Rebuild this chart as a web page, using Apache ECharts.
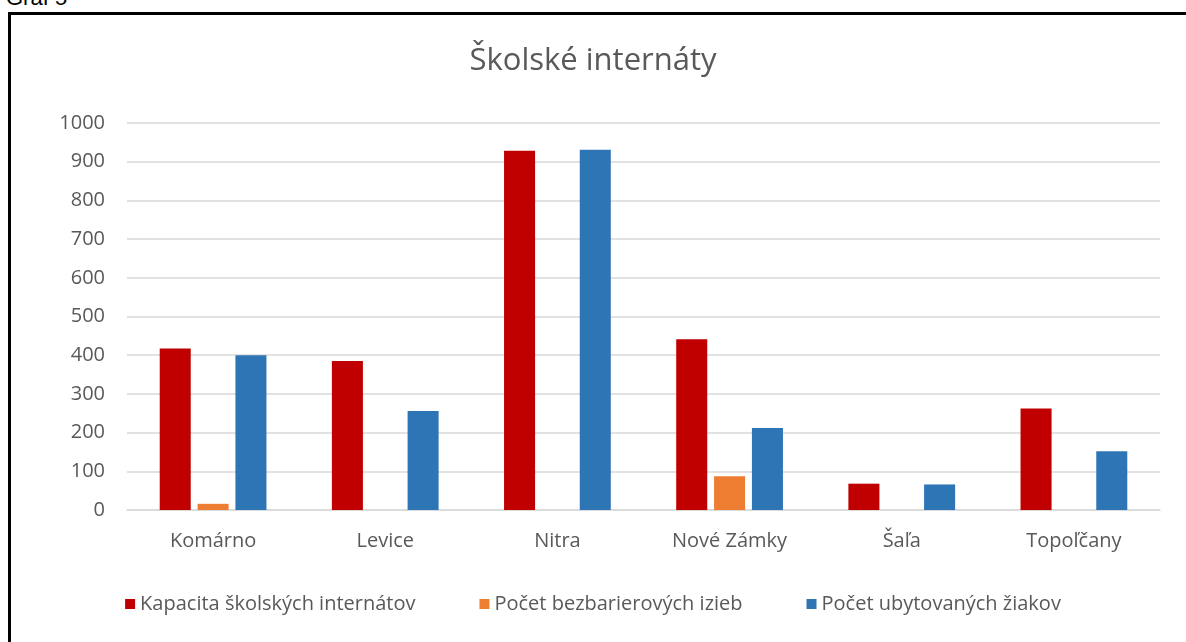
<!DOCTYPE html>
<html>
<head>
<meta charset="utf-8">
<script src="https://cdn.jsdelivr.net/npm/echarts@6/dist/echarts.min.js"></script>
<style>
html,body{margin:0;padding:0;background:#fff;width:1186px;height:642px;overflow:hidden;}
#cap{position:absolute;left:6px;top:-15px;font-family:"Liberation Sans",Arial,sans-serif;font-size:22px;color:#000;}
#frame{position:absolute;left:8px;top:12px;width:1200px;height:700px;border-left:3px solid #000;border-top:3px solid #000;}
#chart{position:absolute;left:0;top:0;width:1186px;height:642px;}
</style>
</head>
<body>
<div id="cap">Graf 5</div>
<div id="frame"></div>
<div id="chart"></div>
<script>
const categories = ["Komárno", "Levice", "Nitra", "Nové Zámky", "Šaľa", "Topoľčany"];
const kapacita = [417, 385, 928, 441, 68, 262];
const bezbarierove = [16, 0, 0, 87, 0, 0];
const ubytovani = [400, 256, 931, 212, 66, 152];
const seriesNames = ["Kapacita školských internátov", "Počet bezbarierových izieb", "Počet ubytovaných žiakov"];
const colors = ["#C00000", "#ED7D31", "#2E75B6"];

const chart = echarts.init(document.getElementById('chart'));
const font = '"Open Sans", sans-serif';
chart.setOption({
  animation: false,
  title: {
    text: "Školské internáty",
    left: 'center',
    top: 41,
    textStyle: {fontFamily: font, fontSize: 31, fontWeight: 'normal', color: '#595959'}
  },
  legend: {
    bottom: 23,
    left: 'center',
    itemWidth: 10,
    itemHeight: 10,
    itemGap: 64,
    icon: 'rect',
    textStyle: {fontFamily: font, fontSize: 20, color: '#595959'},
    data: seriesNames
  },
  grid: {left: 127, right: 26, top: 123, bottom: 132},
  xAxis: {
    type: 'category',
    data: categories,
    axisLine: {lineStyle: {color: '#d9d9d9', width: 1.5}},
    axisTick: {show: false},
    axisLabel: {fontFamily: font, fontSize: 20, color: '#595959', margin: 21}
  },
  yAxis: {
    type: 'value',
    min: 0, max: 1000, interval: 100,
    axisLine: {show: false},
    axisTick: {show: false},
    splitLine: {lineStyle: {color: '#d9d9d9', width: 1.5}},
    axisLabel: {fontFamily: font, fontSize: 20, color: '#595959', margin: 22, formatter: v => String(v)}
  },
  series: [
    {name: seriesNames[0], type: 'bar', data: kapacita, itemStyle: {color: colors[0]}, barGap: '22%', barCategoryGap: '38%'},
    {name: seriesNames[1], type: 'bar', data: bezbarierove, itemStyle: {color: colors[1]}, barGap: '22%', barCategoryGap: '38%'},
    {name: seriesNames[2], type: 'bar', data: ubytovani, itemStyle: {color: colors[2]}, barGap: '22%', barCategoryGap: '38%'}
  ]
});
</script>
</body>
</html>
